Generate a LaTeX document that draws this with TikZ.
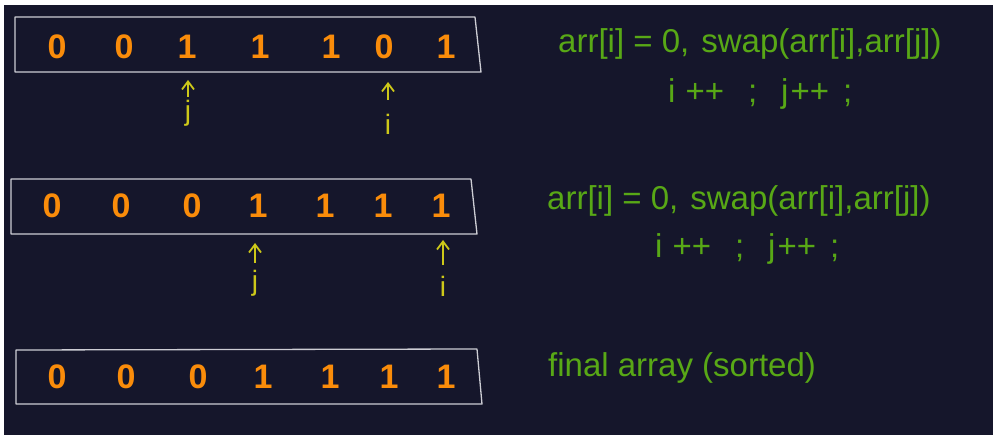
\documentclass[tikz,border=0pt]{standalone}
\usepackage{fontspec}
\setmainfont{Liberation Sans}
\usetikzlibrary{arrows.meta}
\definecolor{bgnavy}{RGB}{21,22,43}
\definecolor{digorange}{RGB}{250,140,10}
\definecolor{ptryellow}{RGB}{205,200,25}
\definecolor{notegreen}{RGB}{88,168,22}
\definecolor{boxgray}{RGB}{205,205,212}
\tikzset{
  digit/.style={text=digorange, inner sep=0pt, font=\fontsize{34}{40}\selectfont\bfseries},
  lbl/.style={text=ptryellow, inner sep=0pt, anchor=north, font=\fontsize{28}{32}\selectfont},
  ptr/.style={draw=ptryellow, line width=1.8pt, -{Straight Barb[length=8pt,width=12pt,line width=1.8pt]}},
  note/.style={text=notegreen, inner sep=0pt, anchor=base west, font=\fontsize{33}{38}\selectfont},
  arraybox/.style={draw=boxgray, line width=1.3pt, line join=round}
}
\begin{document}
\begin{tikzpicture}[x=1pt,y=-1pt]
\useasboundingbox (0,0) rectangle (993,435);
\fill[white] (0,0) rectangle (993,435);
\fill[bgnavy] (4,5) rectangle (993,435);

% array boxes
\draw[arraybox] (15,17) -- (475,17) -- (481,72) -- (15,72) -- cycle;
\draw[arraybox] (11,179) -- (471,179) -- (477,234) -- (11,234) -- cycle;
\draw[arraybox] (16,350) -- (477,349) -- (482,404) -- (16,404) -- cycle;

% row 1 digits
\foreach \x/\v [count=\k] in {57/0,124/0,187/1,260/1,331/1,384/0,446/1}
  \node[digit] (ra\k) at (\x,47) {\v};
% row 2 digits
\foreach \x/\v [count=\k] in {52/0,121/0,192/0,258/1,325/1,383/1,441/1}
  \node[digit] (rb\k) at (\x,206) {\v};
% row 3 digits
\foreach \x/\v [count=\k] in {57/0,126/0,198/0,263/1,330/1,389/1,446/1}
  \node[digit] (rc\k) at (\x,377) {\v};

% pointers row 1
\node[lbl] (ja) at (188,100) {j};
\node[lbl] (ia) at (388,114) {i};
\coordinate (jahead) at (188,80);
\coordinate (iahead) at (388,82);
\draw[ptr, shorten <=3pt] (ja.north) -- (jahead);
\draw[ptr, shorten <=14pt] (ia.north) -- (iahead);

% pointers row 2
\node[lbl] (jb) at (255,270) {j};
\node[lbl] (ib) at (443,276) {i};
\coordinate (jbhead) at (255,243);
\coordinate (ibhead) at (443,240);
\draw[ptr, shorten <=7pt] (jb.north) -- (jbhead);
\draw[ptr, shorten <=11pt] (ib.north) -- (ibhead);

% notes
\node[note] (na1) at (558,53) {arr[i] = 0,\hspace{12pt}swap(arr[i],arr[j])};
\node[note] (na2) at (668,103) {i\hspace{10pt}++\hspace{24pt};\hspace{24pt}j\hspace{2pt}++\hspace{14pt};};
\node[note] (nb1) at (547,210) {arr[i] = 0,\hspace{12pt}swap(arr[i],arr[j])};
\node[note] (nb2) at (655,258) {i\hspace{10pt}++\hspace{24pt};\hspace{24pt}j\hspace{2pt}++\hspace{14pt};};
\node[note] (nc1) at (548,377) {final array (sorted)};
\end{tikzpicture}
\end{document}
